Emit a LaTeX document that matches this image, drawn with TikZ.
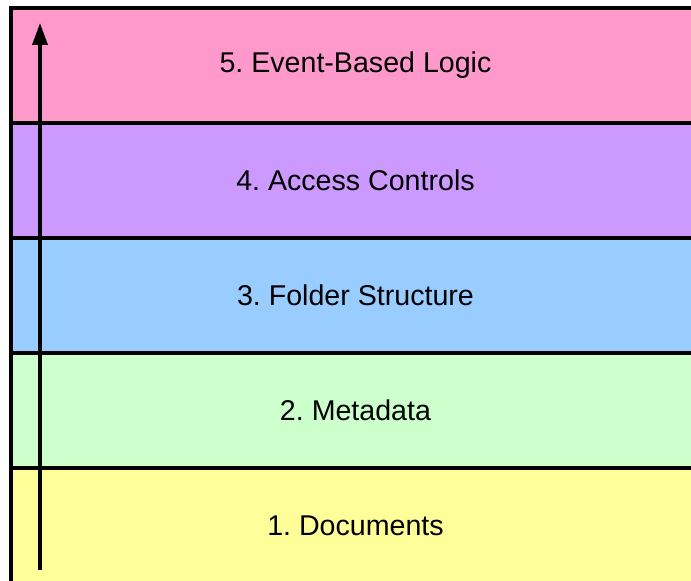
\documentclass[tikz,border=0pt]{standalone}
\usepackage{fontspec}
\setmainfont{Liberation Sans}
\frenchspacing
\usetikzlibrary{arrows.meta}
\definecolor{lypink}{HTML}{FF99CC}
\definecolor{lypurple}{HTML}{CC99FF}
\definecolor{lyblue}{HTML}{99CCFF}
\definecolor{lygreen}{HTML}{CCFFCC}
\definecolor{lyyellow}{HTML}{FFFF99}

\begin{document}
\begin{tikzpicture}[
    x=0.5pt, y=0.5pt,
    layer/.style={rectangle, draw, line width=1.6pt, inner sep=0pt, minimum width=344.5pt, minimum height=57.5pt, font=\fontsize{14.3}{17}\selectfont},
    arrow/.style={-{Triangle[length=11pt,width=7.5pt]}, line width=1.8pt}
  ]
    \useasboundingbox (0,0) rectangle (691,580);
    \clip (0,0) rectangle (691,580);

    % Stack of layers, bottom to top
    \node[layer, fill=lyyellow] (docs) at (355.5, 54.5) {1. Documents};
    \node[layer, fill=lygreen] (meta) at (355.5, 169.5) {2. Metadata};
    \node[layer, fill=lyblue] (folders) at (355.5, 284.5) {3. Folder Structure};
    \node[layer, fill=lypurple] (access) at (355.5, 399.5) {4. Access Controls};
    \node[layer, fill=lypink] (events) at (355.5, 514.5) {5. Event-Based Logic};

    % Upward arrow along the left side
    \coordinate (base) at (40, 10);
    \coordinate (tip) at (40, 557);
    \draw[arrow] (base) -- (tip);
  \end{tikzpicture}
\end{document}
